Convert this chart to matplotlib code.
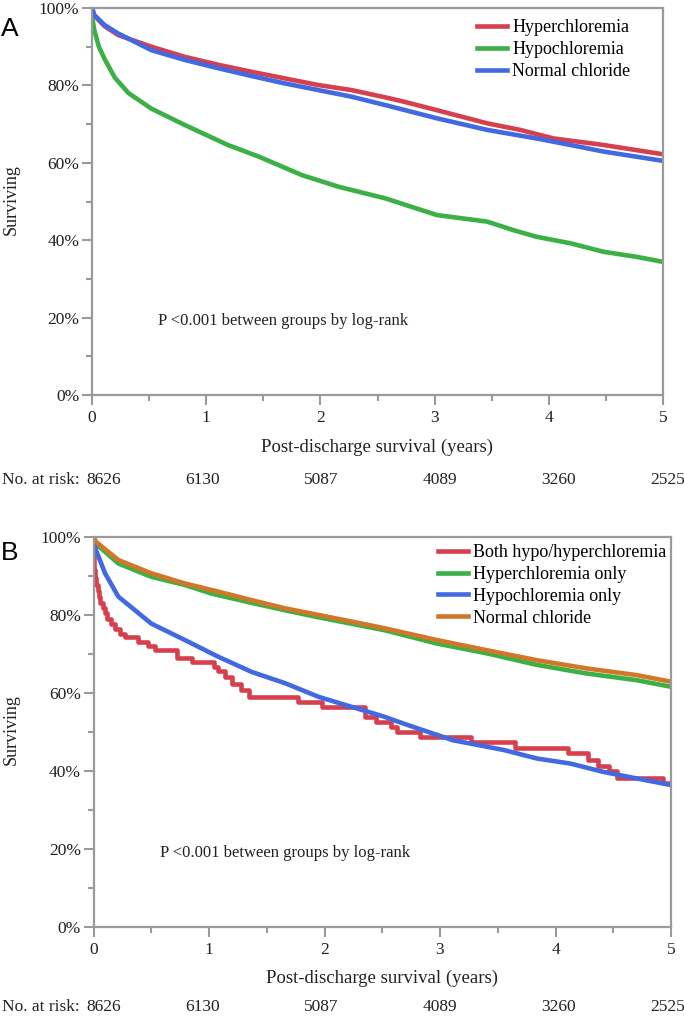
import matplotlib
matplotlib.use("Agg")
import matplotlib.pyplot as plt

# ---- data ----
# Panel A
a_hyper_t = [0, 0.02, 0.11, 0.23, 0.52, 0.81, 1.11, 1.40, 1.69, 1.98, 2.27, 2.57, 2.73, 3.02, 3.46, 3.75, 4.04, 4.48, 5.0]
a_hyper_s = [100, 98.0, 95.3, 93.0, 90.0, 87.4, 85.3, 83.5, 81.8, 80.1, 78.8, 76.9, 75.8, 73.6, 70.2, 68.5, 66.3, 64.6, 62.2]
a_hypo_t = [0, 0.005, 0.02, 0.06, 0.114, 0.2, 0.32, 0.52, 0.81, 1.19, 1.46, 1.84, 2.16, 2.57, 3.02, 3.46, 3.69, 3.89, 4.19, 4.48, 4.77, 5.0]
a_hypo_s = [100, 97.0, 94.3, 90.0, 86.6, 82.0, 78.0, 74.0, 69.8, 64.6, 61.6, 56.8, 53.8, 50.8, 46.5, 44.8, 42.6, 40.9, 39.2, 37.0, 35.7, 34.4]
a_norm_t = [0, 0.02, 0.11, 0.23, 0.52, 0.81, 1.11, 1.40, 1.69, 1.98, 2.27, 2.57, 3.02, 3.46, 3.89, 4.19, 4.48, 5.0]
a_norm_s = [100, 98.2, 95.6, 93.4, 89.1, 86.6, 84.4, 82.4, 80.5, 78.8, 77.1, 74.9, 71.5, 68.5, 66.3, 64.6, 62.9, 60.5]

# Panel B
b_both_t = [0, 0.005, 0.015, 0.025, 0.035, 0.045, 0.06, 0.08, 0.10, 0.12, 0.15, 0.19, 0.23, 0.27, 0.385, 0.47, 0.53,
            0.72, 0.85, 1.04, 1.08, 1.14, 1.20, 1.28, 1.35, 1.77, 1.98, 2.35, 2.45, 2.58, 2.63, 2.83, 3.27, 3.65,
            4.11, 4.28, 4.37, 4.46, 4.53, 4.93, 5.0]
b_both_s = [100, 91.5, 89.5, 87.8, 86.2, 84.6, 83.2, 81.8, 80.4, 79.0, 77.7, 76.4, 75.1, 74.3, 73.1, 72.0, 71.0,
            68.9, 68.0, 66.7, 65.6, 64.2, 62.3, 60.8, 59.0, 57.7, 56.4, 53.9, 52.6, 51.3, 50.1, 48.8, 47.4, 45.8,
            44.5, 42.8, 41.3, 40.0, 38.1, 36.8, 36.8]
b_hyper_t = [0, 0.02, 0.215, 0.5, 0.79, 1.02, 1.37, 1.66, 1.95, 2.52, 2.97, 3.40, 3.84, 4.27, 4.70, 5.0]
b_hyper_s = [100, 98.3, 93.2, 89.8, 87.7, 85.5, 83.1, 81.2, 79.4, 76.1, 72.7, 70.2, 67.2, 65.0, 63.3, 61.6]
b_hypo_t = [0, 0.01, 0.10, 0.215, 0.36, 0.5, 0.79, 1.08, 1.37, 1.66, 1.95, 2.24, 2.52, 2.68, 3.11, 3.55, 3.84, 4.13, 4.41, 4.70, 5.0]
b_hypo_s = [100, 97.5, 90.7, 84.7, 81.2, 77.8, 73.6, 69.3, 65.4, 62.5, 59.0, 56.4, 53.9, 52.2, 47.9, 45.4, 43.2, 41.9, 39.8, 38.1, 36.4]
b_norm_t = [0, 0.02, 0.215, 0.5, 0.79, 1.08, 1.37, 1.66, 1.95, 2.24, 2.52, 2.97, 3.40, 3.84, 4.27, 4.70, 5.0]
b_norm_s = [100, 98.8, 94.1, 90.7, 88.1, 86.0, 83.8, 81.7, 80.0, 78.3, 76.6, 73.6, 71.0, 68.4, 66.3, 64.6, 62.9]

at_risk = ["8626", "6130", "5087", "4089", "3260", "2525"]
at_risk_x = [104, 203, 321, 440, 558, 668]   # pixel centres
x_ticks = [0, 1, 2, 3, 4, 5]
y_ticks = [0, 20, 40, 60, 80, 100]
y_labels = ["0%", "20%", "40%", "60%", "80%", "100%"]

RED = "#d6404e"
GREEN = "#3bb044"
BLUE = "#4169e1"
ORANGE = "#d2772a"
GREY = "#9a9a9a"
TXT = "#222222"

W, H = 684, 1018
plt.rcParams['font.family'] = ['Liberation Serif', 'DejaVu Serif']
fig = plt.figure(figsize=(W / 100, H / 100), dpi=100)


def px_axes(x0, y0, x1, y1):
    return fig.add_axes([x0 / W, 1 - y1 / H, (x1 - x0) / W, (y1 - y0) / H])


def style(ax):
    ax.set_xlim(0, 5)
    ax.set_ylim(0, 100)
    for sp in ax.spines.values():
        sp.set_color(GREY)
        sp.set_linewidth(1.6)
    ax.set_xticks(x_ticks)
    ax.set_xticks([0.5, 1.5, 2.5, 3.5, 4.5], minor=True)
    ax.set_yticks(y_ticks)
    ax.set_yticklabels(y_labels)
    ax.set_yticks([10, 30, 50, 70, 90], minor=True)
    ax.tick_params(which='major', length=7, width=1.5, color=GREY, labelsize=12.5, labelcolor=TXT)
    ax.tick_params(which='minor', length=4, width=1.5, color=GREY)
    ax.tick_params(axis='y', which='major', pad=2)
    ax.tick_params(axis='x', which='major', pad=4)
    ax.text(0.115, 0.19, "P <0.001 between groups by log-rank", transform=ax.transAxes,
            fontsize=12, color=TXT, va='center', ha='left')


def bottom_text(xlab_y, risk_y, cx):
    fig.text(cx / W, 1 - xlab_y / H, "Post-discharge survival (years)", ha='center', va='center',
             fontsize=13.5, color=TXT)
    fig.text(2 / W, 1 - risk_y / H, "No. at risk:", ha='left', va='center', fontsize=12.5, color=TXT)
    for lab, x in zip(at_risk, at_risk_x):
        fig.text(x / W, 1 - risk_y / H, lab, ha='center', va='center', fontsize=12.5, color=TXT)


lw = 3.3

# ---- panel A ----
axA = px_axes(92, 8, 663, 395)
style(axA)
axA.plot(a_hyper_t, a_hyper_s, color=RED, lw=lw, label="Hyperchloremia")
axA.plot(a_hypo_t, a_hypo_s, color=GREEN, lw=lw, label="Hypochloremia")
axA.plot(a_norm_t, a_norm_s, color=BLUE, lw=lw, label="Normal chloride")
axA.legend(loc='upper left', bbox_to_anchor=(477 / W, 1 - 19 / H), bbox_transform=fig.transFigure,
           frameon=False, fontsize=13, handlelength=1.65, handletextpad=0.3, labelspacing=0.29,
           borderpad=0, borderaxespad=0)
fig.text(11 / W, 1 - 200 / H, "Surviving", rotation=90, ha='center', va='center', fontsize=13, color=TXT)
fig.text(10 / W, 1 - 29 / H, "A", ha='center', va='center', fontsize=19, family='Liberation Sans')
bottom_text(447, 480, 377)

# ---- panel B ----
axB = px_axes(93.5, 537, 671, 927)
style(axB)
axB.plot(b_both_t, b_both_s, color=RED, lw=lw, drawstyle='steps-post', label="Both hypo/hyperchloremia")
axB.plot(b_hyper_t, b_hyper_s, color=GREEN, lw=lw, label="Hyperchloremia only")
axB.plot(b_hypo_t, b_hypo_s, color=BLUE, lw=lw, label="Hypochloremia only")
axB.plot(b_norm_t, b_norm_s, color=ORANGE, lw=lw, label="Normal chloride")
axB.legend(loc='upper left', bbox_to_anchor=(438 / W, 1 - 544 / H), bbox_transform=fig.transFigure,
           frameon=False, fontsize=13, handlelength=1.65, handletextpad=0.3, labelspacing=0.27,
           borderpad=0, borderaxespad=0)
fig.text(11 / W, 1 - 730 / H, "Surviving", rotation=90, ha='center', va='center', fontsize=13, color=TXT)
fig.text(10 / W, 1 - 553 / H, "B", ha='center', va='center', fontsize=19, family='Liberation Sans')
bottom_text(978, 1007, 382)

fig.savefig("out.png", dpi=100)
